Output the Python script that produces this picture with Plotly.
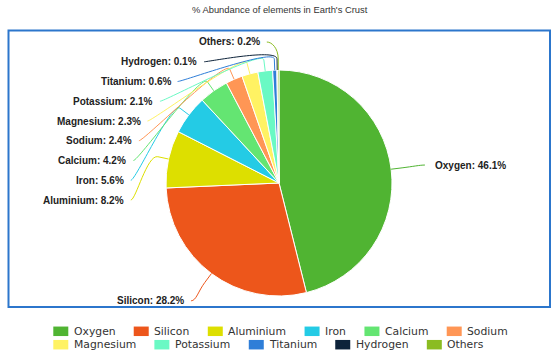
import math
import plotly.graph_objects as go

# ---------------- data ----------------
elements = ["Oxygen", "Silicon", "Aluminium", "Iron", "Calcium", "Sodium",
            "Magnesium", "Potassium", "Titanium", "Hydrogen", "Others"]
abundance = [46.1, 28.2, 8.2, 5.6, 4.2, 2.4, 2.3, 2.1, 0.6, 0.1, 0.2]
colors = ["#50B432", "#ED561B", "#DDDF00", "#24CBE5", "#64E572", "#FF9655",
          "#FFF263", "#6AF9C4", "#2f7ed8", "#0d233a", "#8bbc21"]
title_text = "% Abundance of elements in Earth's Crust"

# ---------------- layout constants ----------------
W, H = 560, 356
CX, CY, R = 279, 183, 113
LABEL_DIST = 34        # natural label distance beyond the rim
LABEL_CIRCLE = 148.5   # circle used for pushed labels
BREAK_OFF = 11         # connector break distance beyond rim
LABEL_TOP = 42
LABEL_STEP = 19.75


def px(x):
    return x / W


def py(y):
    return 1 - y / H


fig = go.Figure()
fig.add_trace(go.Pie(
    labels=elements, values=abundance, sort=False, direction="clockwise",
    rotation=0, textinfo="none", hoverinfo="label+percent",
    marker=dict(colors=colors, line=dict(color="white", width=1)),
    domain=dict(x=[px(CX - R), px(CX + R)], y=[py(CY + R), py(CY - R)]),
    showlegend=False,
))

shapes = []
annotations = []

# ---------------- data labels with connectors ----------------
total = sum(abundance)
cum = 0
info = []
for name, v, c in zip(elements, abundance, colors):
    th = 2 * math.pi * (cum + v / 2) / total
    cum += v
    s, co = math.sin(th), math.cos(th)
    nat = (CX + (R + LABEL_DIST) * s, CY - (R + LABEL_DIST) * co)
    info.append(dict(name=name, v=v, c=c, th=th, s=s, co=co,
                     left=th > math.pi, x=nat[0], y=nat[1]))

# distribute left labels top-down so they do not overlap
left = sorted([d for d in info if d["left"]], key=lambda d: -d["th"])
prev = None
for d in left:
    y = max(d["y"], LABEL_TOP) if prev is None else max(d["y"], prev + LABEL_STEP)
    if abs(y - d["y"]) > 0.5:
        d["y"] = y
        dy = y - 7 - CY
        d["x"] = CX - math.sqrt(max(LABEL_CIRCLE ** 2 - dy ** 2, 0))
    prev = d["y"]

for d in info:
    ex, ey = CX + R * d["s"], CY - R * d["co"]
    bx, by = CX + (R + BREAK_OFF) * d["s"], CY - (R + BREAK_OFF) * d["co"]
    ax, ay = d["x"], d["y"]
    c1x = ax + (5 if d["left"] else -5)
    c2x, c2y = 2 * bx - ex, 2 * by - ey
    path = (f"M {px(ax)} {py(ay)} C {px(c1x)} {py(ay)} {px(c2x)} {py(c2y)} "
            f"{px(bx)} {py(by)} L {px(ex)} {py(ey)}")
    shapes.append(dict(type="path", xref="paper", yref="paper", path=path,
                       line=dict(color=d["c"], width=1)))
    tx = ax - 6 if d["left"] else ax + 9
    annotations.append(dict(
        x=px(tx), y=py(ay), xref="paper", yref="paper", showarrow=False,
        text=f"<b>{d['name']}: {d['v']}%</b>",
        xanchor="right" if d["left"] else "left", yanchor="middle",
        font=dict(family="Liberation Sans, Arial", size=10, color="#222222"),
        borderpad=0,
    ))

# ---------------- plot border ----------------
shapes.append(dict(type="rect", xref="paper", yref="paper",
                   x0=px(8.5), x1=px(550), y0=py(30.5), y1=py(307),
                   line=dict(color="#2c76cc", width=2)))

# ---------------- title ----------------
annotations.append(dict(
    x=px(280), y=py(10), xref="paper", yref="paper", showarrow=False,
    text=title_text, xanchor="center", yanchor="middle",
    font=dict(family="Liberation Sans, Arial", size=9.4, color="#333333"),
    borderpad=0,
))

# ---------------- legend (flow layout) ----------------
DV = {"O": .787, "x": .592, "y": .592, "g": .635, "e": .615, "n": .634,
      "S": .635, "i": .278, "l": .278, "c": .550, "o": .612, "A": .684,
      "u": .634, "m": .974, "I": .295, "r": .411, "C": .698, "a": .613,
      "d": .635, "M": .863, "s": .521, "P": .603, "t": .392, "T": .611,
      "H": .752, "h": .634}
LEG_FS = 10.8
SYM_W, SYM_H = 15, 9.5
TXT_OFF, ITEM_GAP = 19.3, 19.5
ROW_Y = [331.3, 344.7]
MAX_ROW = 460


def tw(t):
    return sum(DV.get(ch, 0.6) for ch in t) * LEG_FS


rows = [[]]
cur = 0
for name, c in zip(elements, colors):
    w = TXT_OFF + tw(name)
    if rows[-1] and cur + ITEM_GAP + w > MAX_ROW:
        rows.append([])
        cur = 0
    if rows[-1]:
        cur += ITEM_GAP
    rows[-1].append((name, c, cur))
    cur += w
row_widths = [r[-1][2] + TXT_OFF + tw(r[-1][0]) for r in rows]
x_start = 280 - max(row_widths) / 2

for ri, row in enumerate(rows):
    yc = ROW_Y[ri]
    for name, c, off in row:
        x0 = x_start + off
        shapes.append(dict(type="rect", xref="paper", yref="paper",
                           x0=px(x0), x1=px(x0 + SYM_W),
                           y0=py(yc - SYM_H / 2), y1=py(yc + SYM_H / 2),
                           line=dict(width=0), fillcolor=c))
        annotations.append(dict(
            x=px(x0 + TXT_OFF), y=py(yc), xref="paper", yref="paper",
            showarrow=False, text=name, xanchor="left", yanchor="middle",
            font=dict(family="DejaVu Sans", size=LEG_FS, color="#333333"),
            borderpad=0,
        ))

fig.update_layout(
    width=W, height=H, margin=dict(l=0, r=0, t=0, b=0),
    paper_bgcolor="white", plot_bgcolor="white",
    shapes=shapes, annotations=annotations, showlegend=False,
)

fig.write_html(
    "out.html",
    config={"displayModeBar": False},
    post_script="document.body.style.margin='0';document.body.style.overflow='hidden';",
)
